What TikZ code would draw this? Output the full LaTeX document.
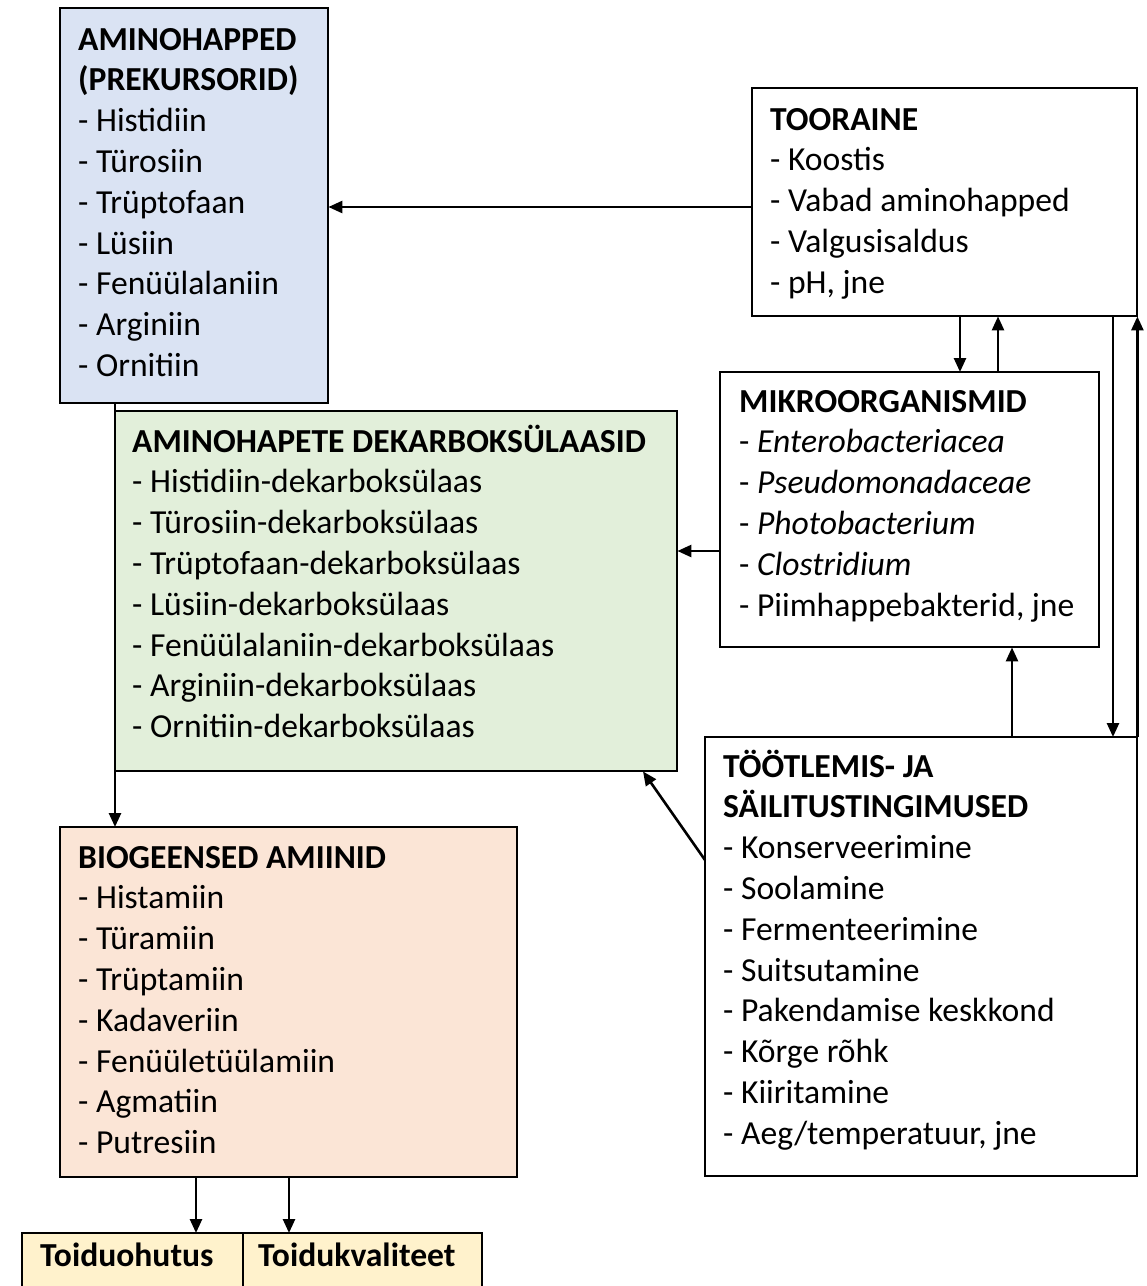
\documentclass[tikz,border=0pt]{standalone}
\usepackage{fontspec}
\setmainfont{Carlito}
\usetikzlibrary{arrows.meta}
\definecolor{cblue}{HTML}{DAE3F3}
\definecolor{cgreen}{HTML}{E2EFDA}
\definecolor{cpeach}{HTML}{FBE5D6}
\definecolor{cyellow}{HTML}{FFF2CC}
\tikzset{
  boxline/.style={draw=black, line width=2.8pt},
  conn/.style={line width=2.6pt, -{Triangle[length=14pt,width=12pt]}},
  txt/.style={anchor=base west, inner sep=0pt, font=\fontsize{33.6}{40.8}\selectfont},
}
\newcommand{\boxtext}[1]{\begin{minipage}[t]{700pt}\setlength{\baselineskip}{40.8pt}#1\end{minipage}}
\begin{document}
\begin{tikzpicture}[x=1pt,y=-1pt]
\useasboundingbox (0,0) rectangle (1147,1286);
\fill[white] (0,0) rectangle (1147,1286);
\begin{scope}
\clip (0,0) rectangle (1147,1286);
% boxes
\draw[boxline, fill=cblue] (60,8) rectangle (328,403);
\node[inner sep=0pt, minimum width=268pt, minimum height=395pt, anchor=north west] (amino) at (60,8) {};
\draw[boxline, fill=white] (752,88) rectangle (1137,316);
\node[inner sep=0pt, minimum width=385pt, minimum height=228pt, anchor=north west] (toor) at (752,88) {};
\draw[boxline, fill=white] (720,372) rectangle (1099,647);
\node[inner sep=0pt, minimum width=379pt, minimum height=275pt, anchor=north west] (mikro) at (720,372) {};
\draw[boxline, fill=cgreen] (115,411) rectangle (677,771);
\node[inner sep=0pt, minimum width=562pt, minimum height=360pt, anchor=north west] (dek) at (115,411) {};
\draw[boxline, fill=white] (705,737) rectangle (1137,1176);
\node[inner sep=0pt, minimum width=432pt, minimum height=439pt, anchor=north west] (tootl) at (705,737) {};
\draw[boxline, fill=cpeach] (60,827) rectangle (517,1177);
\node[inner sep=0pt, minimum width=457pt, minimum height=350pt, anchor=north west] (bio) at (60,827) {};
\draw[boxline, fill=cyellow] (22,1233) rectangle (243,1300);
\node[inner sep=0pt, minimum width=221pt, minimum height=67pt, anchor=north west] (ohutus) at (22,1233) {};
\draw[boxline, fill=cyellow] (243,1233) rectangle (482,1300);
\node[inner sep=0pt, minimum width=239pt, minimum height=67pt, anchor=north west] (kval) at (243,1233) {};
\end{scope}
% texts
\node[txt] (taminot) at (78,50) {\boxtext{\textbf{AMINOHAPPED}\\\textbf{(PREKURSORID)}\\- Histidiin\\- Türosiin\\- Trüptofaan\\- Lüsiin\\- Fenüülalaniin\\- Arginiin\\- Ornitiin}};
\node[txt] (ttoort) at (770,130) {\boxtext{\textbf{TOORAINE}\\- Koostis\\- Vabad aminohapped\\- Valgusisaldus\\- pH, jne}};
\node[txt] (tmikrot) at (739,412) {\boxtext{\textbf{MIKROORGANISMID}\\- \textit{Enterobacteriacea}\\- \textit{Pseudomonadaceae}\\- \textit{Photobacterium}\\- \textit{Clostridium}\\- Piimhappebakterid, jne}};
\node[txt] (tdekt) at (132,452) {\boxtext{\textbf{AMINOHAPETE DEKARBOKSÜLAASID}\\- Histidiin-dekarboksülaas\\- Türosiin-dekarboksülaas\\- Trüptofaan-dekarboksülaas\\- Lüsiin-dekarboksülaas\\- Fenüülalaniin-dekarboksülaas\\- Arginiin-dekarboksülaas\\- Ornitiin-dekarboksülaas}};
\node[txt] (ttootlt) at (723,777) {\boxtext{\textbf{TÖÖTLEMIS- JA}\\\textbf{SÄILITUSTINGIMUSED}\\- Konserveerimine\\- Soolamine\\- Fermenteerimine\\- Suitsutamine\\- Pakendamise keskkond\\- Kõrge rõhk\\- Kiiritamine\\- Aeg/temperatuur, jne}};
\node[txt] (tbiot) at (78,868) {\boxtext{\textbf{BIOGEENSED AMIINID}\\- Histamiin\\- Türamiin\\- Trüptamiin\\- Kadaveriin\\- Fenüületüülamiin\\- Agmatiin\\- Putresiin}};
\node[txt] (tohutus) at (40,1266) {\textbf{Toiduohutus}};
\node[txt] (tkval) at (258,1266) {\textbf{Toidukvaliteet}};
% connectors
\draw[conn] (toor.west |- 0,207) -- (amino.east |- 0,207);
\draw[conn] (toor.south -| 960,0) -- (mikro.north -| 960,0);
\draw[conn] (mikro.north -| 998,0) -- (toor.south -| 998,0);
\draw[conn] (toor.south -| 1113,0) -- (tootl.north -| 1113,0);
\draw[conn] (tootl.north east) -- (toor.south east);
\draw[conn] (tootl.north -| 1012,0) -- (mikro.south -| 1012,0);
\draw[conn] (mikro.west |- 0,551) -- (dek.east |- 0,551);
\draw[conn] (tootl.west |- 0,860) -- (dek.south -| 643,0);
\draw[conn] (amino.south -| 115,0) -- (bio.north -| 115,0);
\draw[conn] (bio.south -| 196,0) -- (ohutus.north -| 196,0);
\draw[conn] (bio.south -| 289,0) -- (kval.north -| 289,0);
\end{tikzpicture}
\end{document}
